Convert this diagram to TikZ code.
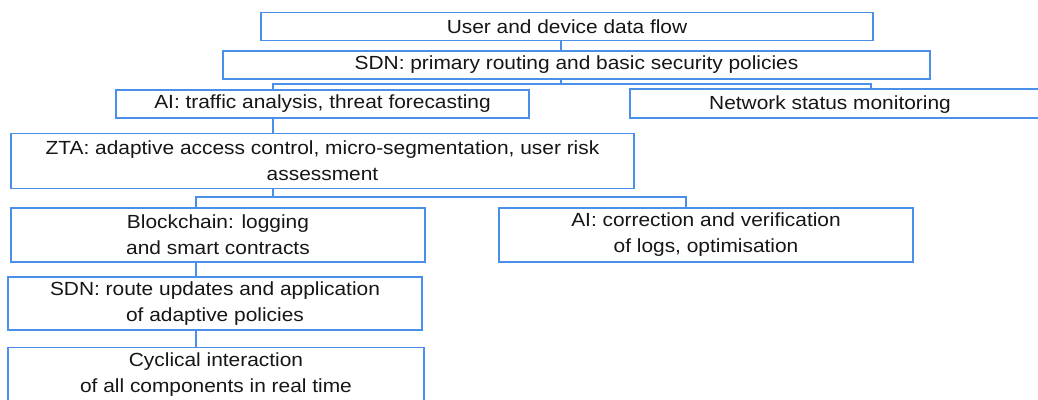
\documentclass[tikz,border=0pt]{standalone}
\usepackage{fontspec}
\setmainfont{Liberation Sans}[FakeStretch=1.1]
\definecolor{boxblue}{HTML}{4A8FEA}
\definecolor{ink}{HTML}{161616}
\tikzset{
  box/.style={draw=boxblue, line width=1.4pt, fill=white, inner sep=0pt,
    align=center, text=ink, font=\fontsize{19}{26}\selectfont},
  plain/.style={inner sep=0pt, align=center, text=ink, font=\fontsize{19}{26}\selectfont},
  link/.style={draw=boxblue, line width=1.2pt},
}
\begin{document}
\begin{tikzpicture}[x=1pt, y=-1pt]
\useasboundingbox (0,0) rectangle (1038,399);
\clip (0,0) rectangle (1038,399);

% boxes
\node[box, minimum width=612pt, minimum height=28pt] (flow) at (567,26.5) {User and device data flow};
\node[box, minimum width=707pt, minimum height=28pt] (sdnA) at (576.5,65) {SDN: primary routing and basic security policies};
\node[box, minimum width=413pt, minimum height=28pt] (aiA) at (322.5,104) {AI: traffic analysis, threat forecasting};
\node[box, minimum width=440pt, minimum height=29pt] (net) at (850,103.5) {};
\node[plain] (netT) at (830,104.5) {Network status monitoring};
\node[box, minimum width=623pt, minimum height=55pt] (zta) at (322.5,161)
  {ZTA: adaptive access control, micro-segmentation, user risk\\assessment};
\node[box, minimum width=414pt, minimum height=54pt] (bc) at (218,235)
  {Blockchain: logging\\and smart contracts};
\node[box, minimum width=414pt, minimum height=54pt] (aiB) at (706,235)
  {AI: correction and verification\\of logs, optimisation};
\node[box, minimum width=414pt, minimum height=53pt] (sdnB) at (215,303.5)
  {SDN: route updates and application\\of adaptive policies};
\node[box, minimum width=416pt, minimum height=54pt] (cyc) at (216,374.5)
  {Cyclical interaction\\of all components in real time};

% junction points of the connectors
\coordinate (a0) at (561,40);
\coordinate (s1) at (561,84);
\coordinate (j1) at (273,84);
\coordinate (j2) at (871,84);
\coordinate (k0) at (273,197);
\coordinate (k1) at (196,197);
\coordinate (k2) at (686,197);

% connectors
\draw[link] (flow.south -| a0) -- (sdnA.north -| a0);
\draw[link] (sdnA.south -| s1) -- (s1);
\draw[link] (aiA.north -| j1) |- (j2) -- (net.north -| j2);
\draw[link] (aiA.south -| j1) -- (zta.north -| j1);
\draw[link] (zta.south -| k0) -- (k0);
\draw[link] (bc.north -| k1) |- (k2) -- (aiB.north -| k2);
\draw[link] (bc.south -| k1) -- (sdnB.north -| k1);
\draw[link] (sdnB.south -| k1) -- (cyc.north -| k1);
\end{tikzpicture}
\end{document}
